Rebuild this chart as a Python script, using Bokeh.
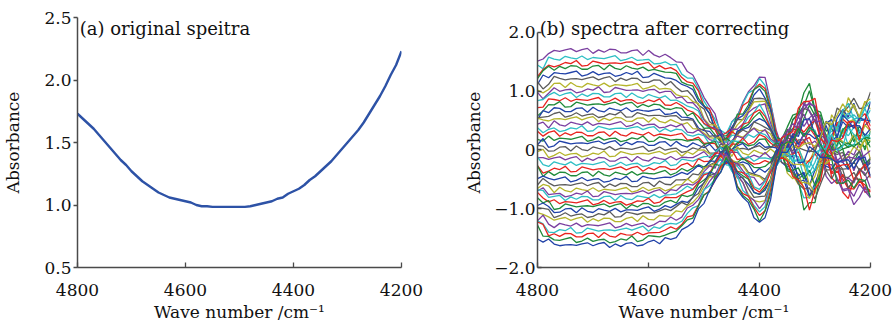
from bokeh.plotting import figure
from bokeh.models import Range1d, FixedTicker, Label
from bokeh.layouts import row
from bokeh.embed import file_html
from bokeh.resources import INLINE

FONT = "DejaVu Serif"

# ---------------- data ----------------
wn = list(range(4800, 4199, -10))  # wave numbers, 61 points

# panel (a): original spectrum
absorb_a = [1.73, 1.69, 1.65, 1.61, 1.56, 1.51, 1.46, 1.41, 1.36, 1.32,
            1.27, 1.23, 1.19, 1.16, 1.13, 1.10, 1.08, 1.06, 1.05, 1.04,
            1.03, 1.02, 1.00, 0.99, 0.99, 0.985, 0.985, 0.985, 0.985, 0.985,
            0.985, 0.985, 0.99, 1.00, 1.01, 1.02, 1.03, 1.05, 1.06, 1.09,
            1.11, 1.13, 1.16, 1.20, 1.23, 1.27, 1.31, 1.35, 1.40, 1.45,
            1.50, 1.55, 1.60, 1.66, 1.73, 1.80, 1.87, 1.95, 2.04, 2.12,
            2.23]

# panel (b): corrected spectra, plateau level of each series (top to bottom)
levels = [1.68, 1.56, 1.47, 1.40, 1.30, 1.20, 1.10, 1.02, 0.93, 0.85,
          0.77, 0.68, 0.60, 0.52, 0.44, 0.36, 0.27, 0.19, 0.11, 0.02,
          -0.07, -0.16, -0.24, -0.33, -0.41, -0.50, -0.60, -0.68, -0.75, -0.82,
          -0.89, -0.96, -1.03, -1.10, -1.19, -1.28, -1.37, -1.45, -1.53, -1.62]

# shape of the band 4800-4360 relative to plateau level
env_main = [0.88, 0.93, 0.97, 1.0, 1.0, 1.0, 1.0, 1.0, 1.0, 1.0,
            1.0, 1.0, 1.0, 1.0, 1.0, 1.0, 1.0, 0.99, 0.99, 0.98,
            0.98, 0.97, 0.96, 0.95, 0.93, 0.90, 0.86, 0.81, 0.75, 0.65,
            0.54, 0.43, 0.32, 0.22, 0.14, 0.24, 0.37, 0.48, 0.58, 0.69,
            0.76, 0.72, 0.48, 0.14, 0.04, 0.0, 0.0, 0.0, 0.0, 0.0,
            0.0, 0.0, 0.0, 0.0, 0.0, 0.0, 0.0, 0.0, 0.0, 0.0,
            0.0]
# spread of the noisy tail (two bulges)
env_tail_a = [0.0] * 44 + [0.12, 0.30, 0.42, 0.60, 0.80, 0.88, 0.75, 0.50, 0.30, 0.15] + [0.0] * 7
env_tail_b = [0.0] * 51 + [0.10, 0.30, 0.45, 0.50, 0.62, 0.78, 0.70, 0.62, 0.70, 0.78]
# wiggle size along the axis
wiggle_amp = [0.10, 0.09, 0.07, 0.06, 0.05, 0.05, 0.05, 0.05, 0.05, 0.05,
              0.05, 0.05, 0.05, 0.05, 0.05, 0.05, 0.05, 0.05, 0.05, 0.05,
              0.05, 0.05, 0.05, 0.05, 0.05, 0.05, 0.06, 0.06, 0.06, 0.07,
              0.07, 0.07, 0.09, 0.12, 0.14, 0.12, 0.09, 0.07, 0.07, 0.07,
              0.07, 0.07, 0.07, 0.10, 0.13, 0.14, 0.16, 0.18, 0.18, 0.18,
              0.18, 0.18, 0.18, 0.18, 0.18, 0.18, 0.18, 0.18, 0.18, 0.18,
              0.18]
# tail position of each series
tail_a = [0.9, -0.4, 0.2, 1.1, -0.8, 0.5, -0.1, 0.7, -1.0, 0.3,
          0.8, -0.6, 0.0, -0.9, 0.6, 0.4, -0.3, 1.0, -0.7, 0.1,
          -0.5, 0.9, -0.2, 0.6, -1.1, 0.3, 0.7, -0.8, 0.2, -0.4,
          1.0, -0.6, 0.5, -0.9, 0.1, 0.8, -0.3, -1.0, 0.4, -0.1]
tail_b = [-0.3, 0.8, -0.9, 0.2, 0.6, -0.5, 1.0, -0.1, 0.4, -0.8,
          0.1, 0.9, -0.6, 0.5, -1.0, 0.3, 0.7, -0.2, -0.4, 1.1,
          0.0, -0.7, 0.8, -0.9, 0.4, 0.6, -0.3, 0.2, -1.1, 0.9,
          -0.5, 0.1, 0.7, -0.6, 1.0, -0.2, 0.3, 0.5, -0.8, -0.4]
wiggle = [0.3, -0.6, 0.8, -0.2, 0.5, -0.9, 0.1, 0.7, -0.4, 0.2,
          -0.8, 0.6, -0.1, 0.9, -0.5, 0.4, -0.3, 0.0, 0.8, -0.7,
          0.2, -0.2, 0.6, -1.0, 0.5, 0.1, -0.6, 0.9, -0.3, 0.3,
          -0.8, 0.7, -0.1, 0.4, -0.5, 1.0, -0.4, 0.2, -0.9, 0.6,
          0.0, -0.7, 0.5, -0.2, 0.8, -0.6, 0.3]

colors = ["#7b3fa0", "#2ebfc4", "#e8231f", "#1f8a3a", "#2142a8", "#5c5c5c", "#b5b42c"]

x_ticks = [4800, 4600, 4400, 4200]
a_ticks = [0.5, 1.0, 1.5, 2.0, 2.5]
a_tick_labels = ["0.5", "1.0", "1.5", "2.0", "2.5"]
b_ticks = [-2, -1, 0, 1, 2]
b_tick_labels = ["\u22122.0", "\u22121.0", "0", "1.0", "2.0"]

x_label = "Wave number /cm\u207b\u00b9"
y_label = "Absorbance"


def style(p, yticks, ylabels, ystandoff, yin, yout):
    p.xaxis.ticker = FixedTicker(ticks=x_ticks)
    p.yaxis.ticker = FixedTicker(ticks=yticks)
    p.yaxis.major_label_overrides = {t: l for t, l in zip(yticks, ylabels)}
    p.yaxis.bounds = (yticks[0], yticks[-1])
    for ax in (p.xaxis, p.yaxis):
        ax.axis_line_color = "#4a4a4a"
        ax.axis_line_width = 1.5
        ax.major_tick_line_color = "#4a4a4a"
        ax.major_tick_line_width = 1.3
        ax.minor_tick_line_color = None
        ax.major_label_text_font = FONT
        ax.major_label_text_font_size = "17px"
        ax.major_label_text_color = "#111111"
        ax.axis_label_text_font = FONT
        ax.axis_label_text_font_size = "17px"
        ax.axis_label_text_font_style = "normal"
        ax.axis_label_text_color = "#111111"
    p.xaxis.major_tick_in = 5
    p.xaxis.major_tick_out = 0
    p.yaxis.major_tick_in = yin
    p.yaxis.major_tick_out = yout
    p.xaxis.major_label_standoff = 16
    p.xaxis.axis_label_standoff = 3
    p.yaxis.major_label_standoff = 2
    p.yaxis.axis_label_standoff = ystandoff
    p.xaxis.axis_label = x_label
    p.yaxis.axis_label = y_label
    p.xgrid.visible = False
    p.ygrid.visible = False
    p.outline_line_color = None
    p.background_fill_color = "white"
    p.border_fill_color = "white"


# ---------------- panel (a) ----------------
pa = figure(frame_width=324, frame_height=250, output_backend="svg", toolbar_location=None,
            x_range=Range1d(4800, 4200), y_range=Range1d(0.5, 2.5),
            min_border_left=76, min_border_right=40, min_border_top=17, min_border_bottom=59)
style(pa, a_ticks, a_tick_labels, 18, 0, 4)
pa.line(wn, absorb_a, line_color="#2d52a6", line_width=2.4)
pa.add_layout(Label(x=4796, y=2.5, text="(a) original speitra", text_font=FONT,
                    text_font_size="18px", text_color="#111111", text_baseline="top"))

# ---------------- panel (b) ----------------
pb = figure(frame_width=333, frame_height=250, output_backend="svg", toolbar_location=None,
            x_range=Range1d(4800, 4200), y_range=Range1d(-2, 2.25),
            min_border_left=96, min_border_right=23, min_border_top=17, min_border_bottom=59)
style(pb, b_ticks, b_tick_labels, 7, 4, 0)
for i, lev in enumerate(levels):
    ys = [lev * env_main[j] + tail_a[i] * env_tail_a[j] + tail_b[i] * env_tail_b[j]
          + wiggle[(3 * j + 7 * i) % len(wiggle)] * wiggle_amp[j] for j in range(len(wn))]
    pb.line(wn, ys, line_color=colors[i % len(colors)], line_width=1.3)
pb.add_layout(Label(x=4796, y=2.25, text="(b) spectra after correcting", text_font=FONT,
                    text_font_size="18px", text_color="#111111", text_baseline="top"))

layout = row(pa, pb)
open("out.html", "w").write(file_html(layout, INLINE))
